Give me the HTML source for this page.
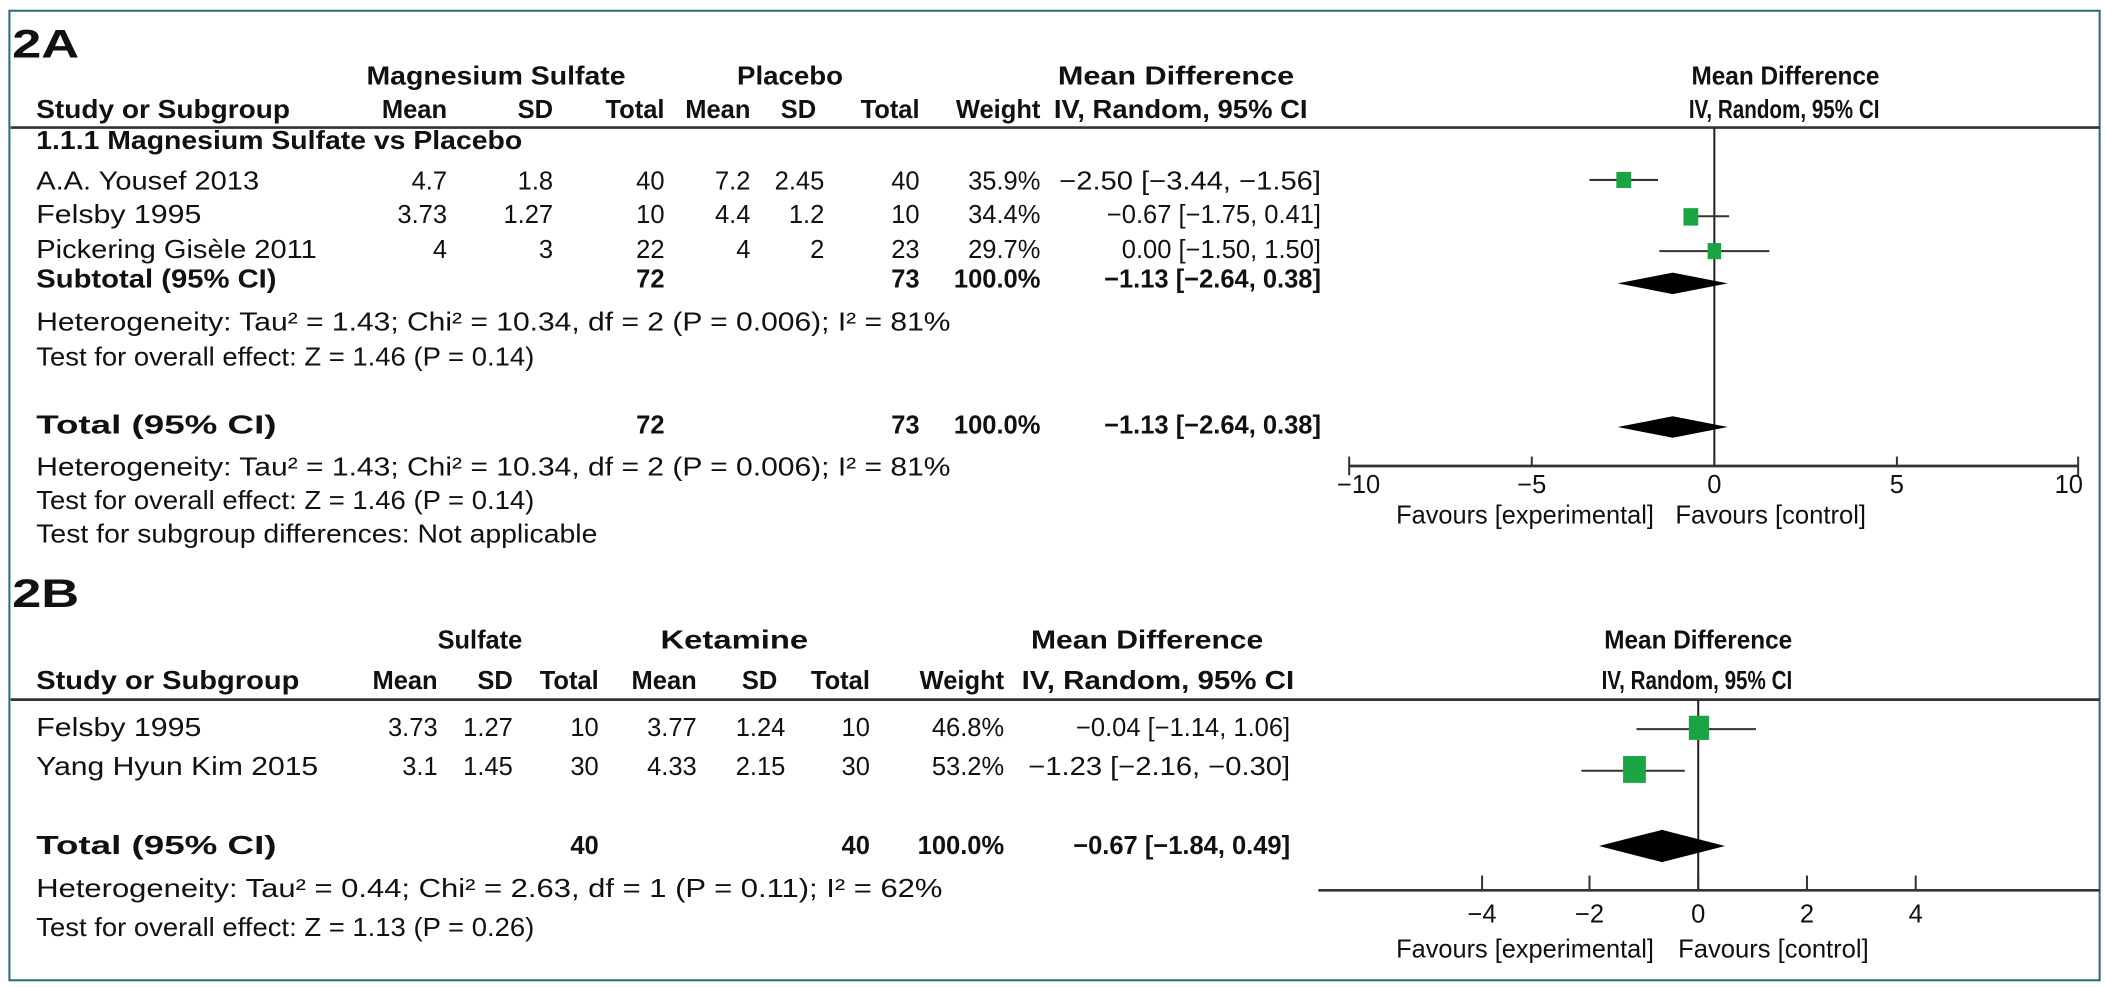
<!DOCTYPE html>
<html><head><meta charset="utf-8"><style>
html,body{margin:0;padding:0;background:#fff;width:2105px;height:987px;overflow:hidden}
svg{display:block}
text{font-family:"Liberation Sans",sans-serif;font-size:19px;fill:#111}
.b{font-weight:bold}
.r{text-anchor:end}
.m{text-anchor:middle}
</style></head><body>
<svg width="2105" height="987" viewBox="0 0 1568 735" preserveAspectRatio="none" xmlns="http://www.w3.org/2000/svg">
<rect x="7" y="8" width="1557" height="722" fill="#fff" stroke="#2b6a7a" stroke-width="1.5"/>
<!-- 2A -->
<text x="9" y="43" class="b" style="font-size:30px" textLength="50" lengthAdjust="spacingAndGlyphs">2A</text>
<text x="273" y="63" class="b" textLength="193" lengthAdjust="spacingAndGlyphs">Magnesium Sulfate</text>
<text x="549" y="63" class="b" textLength="79" lengthAdjust="spacingAndGlyphs">Placebo</text>
<text x="788" y="63" class="b" textLength="176" lengthAdjust="spacingAndGlyphs">Mean Difference</text>
<text x="1260" y="63" class="b" textLength="140" lengthAdjust="spacingAndGlyphs">Mean Difference</text>
<text x="27" y="88" class="b" textLength="189" lengthAdjust="spacingAndGlyphs">Study or Subgroup</text>
<text x="333" y="88" class="b r">Mean</text>
<text x="412" y="88" class="b r">SD</text>
<text x="495" y="88" class="b r">Total</text>
<text x="559" y="88" class="b r">Mean</text>
<text x="608" y="88" class="b r">SD</text>
<text x="685" y="88" class="b r">Total</text>
<text x="775" y="88" class="b r">Weight</text>
<text x="785" y="88" class="b" textLength="189" lengthAdjust="spacingAndGlyphs">IV, Random, 95% CI</text>
<text x="1258" y="88" class="b" textLength="142" lengthAdjust="spacingAndGlyphs">IV, Random, 95% CI</text>
<line x1="8" y1="95" x2="1564" y2="95" stroke="#333" stroke-width="2"/>
<text x="27" y="111" class="b" textLength="362" lengthAdjust="spacingAndGlyphs">1.1.1 Magnesium Sulfate vs Placebo</text>
<g>
<text x="27" y="141" textLength="166" lengthAdjust="spacingAndGlyphs">A.A. Yousef 2013</text><text x="333" y="141" class="r">4.7</text><text x="412" y="141" class="r">1.8</text><text x="495" y="141" class="r">40</text><text x="559" y="141" class="r">7.2</text><text x="614" y="141" class="r">2.45</text><text x="685" y="141" class="r">40</text><text x="775" y="141" class="r">35.9%</text><text x="984" y="141" class="r" textLength="195" lengthAdjust="spacingAndGlyphs">−2.50 [−3.44, −1.56]</text>
<text x="27" y="166" textLength="123" lengthAdjust="spacingAndGlyphs">Felsby 1995</text><text x="333" y="166" class="r">3.73</text><text x="412" y="166" class="r">1.27</text><text x="495" y="166" class="r">10</text><text x="559" y="166" class="r">4.4</text><text x="614" y="166" class="r">1.2</text><text x="685" y="166" class="r">10</text><text x="775" y="166" class="r">34.4%</text><text x="984" y="166" class="r">−0.67 [−1.75, 0.41]</text>
<text x="27" y="192" textLength="209" lengthAdjust="spacingAndGlyphs">Pickering Gisèle 2011</text><text x="333" y="192" class="r">4</text><text x="412" y="192" class="r">3</text><text x="495" y="192" class="r">22</text><text x="559" y="192" class="r">4</text><text x="614" y="192" class="r">2</text><text x="685" y="192" class="r">23</text><text x="775" y="192" class="r">29.7%</text><text x="984" y="192" class="r">0.00 [−1.50, 1.50]</text>
<text x="27" y="214" class="b" textLength="179" lengthAdjust="spacingAndGlyphs">Subtotal (95% CI)</text><text x="495" y="214" class="b r">72</text><text x="685" y="214" class="b r">73</text><text x="775" y="214" class="b r">100.0%</text><text x="984" y="214" class="b r">−1.13 [−2.64, 0.38]</text>
<text x="27" y="246" textLength="681" lengthAdjust="spacingAndGlyphs">Heterogeneity: Tau² = 1.43; Chi² = 10.34, df = 2 (P = 0.006); I² = 81%</text>
<text x="27" y="272" textLength="371" lengthAdjust="spacingAndGlyphs">Test for overall effect: Z = 1.46 (P = 0.14)</text>
<text x="27" y="323" class="b" textLength="179" lengthAdjust="spacingAndGlyphs">Total (95% CI)</text><text x="495" y="323" class="b r">72</text><text x="685" y="323" class="b r">73</text><text x="775" y="323" class="b r">100.0%</text><text x="984" y="323" class="b r">−1.13 [−2.64, 0.38]</text>
<text x="27" y="354" textLength="681" lengthAdjust="spacingAndGlyphs">Heterogeneity: Tau² = 1.43; Chi² = 10.34, df = 2 (P = 0.006); I² = 81%</text>
<text x="27" y="379" textLength="371" lengthAdjust="spacingAndGlyphs">Test for overall effect: Z = 1.46 (P = 0.14)</text>
<text x="27" y="404" textLength="418" lengthAdjust="spacingAndGlyphs">Test for subgroup differences: Not applicable</text>
</g>
<!-- 2A plot -->
<line x1="1277" y1="95" x2="1277" y2="347" stroke="#222" stroke-width="1.5"/>
<line x1="1005" y1="347" x2="1548" y2="347" stroke="#333" stroke-width="2"/>
<g stroke="#333" stroke-width="1.5">
<line x1="1005" y1="340" x2="1005" y2="354"/><line x1="1141" y1="340" x2="1141" y2="347"/><line x1="1277" y1="340" x2="1277" y2="347"/><line x1="1413" y1="340" x2="1413" y2="347"/><line x1="1548" y1="340" x2="1548" y2="354"/>
<line x1="1184" y1="134" x2="1235" y2="134"/>
<line x1="1259" y1="161" x2="1288" y2="161"/>
<line x1="1236" y1="187" x2="1318" y2="187"/>
</g>
<g fill="#1aa542">
<rect x="1204" y="128" width="11" height="12"/>
<rect x="1254" y="155" width="11" height="13"/>
<rect x="1272" y="181" width="10" height="12"/>
</g>
<polygon points="1205,211 1246,203 1287,211 1246,219" fill="#000"/>
<polygon points="1205,318 1246,310 1287,318 1246,326" fill="#000"/>
<text x="1012" y="367" class="m">−10</text><text x="1141" y="367" class="m">−5</text><text x="1277" y="367" class="m">0</text><text x="1413" y="367" class="m">5</text><text x="1541" y="367" class="m">10</text>
<text x="1040" y="390" textLength="192" lengthAdjust="spacingAndGlyphs">Favours [experimental]</text><text x="1248" y="390" textLength="142" lengthAdjust="spacingAndGlyphs">Favours [control]</text>
<!-- 2B -->
<text x="9" y="452" class="b" style="font-size:30px" textLength="50" lengthAdjust="spacingAndGlyphs">2B</text>
<text x="326" y="483" class="b" textLength="63" lengthAdjust="spacingAndGlyphs">Sulfate</text>
<text x="492" y="483" class="b" textLength="110" lengthAdjust="spacingAndGlyphs">Ketamine</text>
<text x="768" y="483" class="b" textLength="173" lengthAdjust="spacingAndGlyphs">Mean Difference</text>
<text x="1195" y="483" class="b" textLength="140" lengthAdjust="spacingAndGlyphs">Mean Difference</text>
<text x="27" y="513" class="b" textLength="196" lengthAdjust="spacingAndGlyphs">Study or Subgroup</text>
<text x="326" y="513" class="b r">Mean</text>
<text x="382" y="513" class="b r">SD</text>
<text x="446" y="513" class="b r">Total</text>
<text x="519" y="513" class="b r">Mean</text>
<text x="579" y="513" class="b r">SD</text>
<text x="648" y="513" class="b r">Total</text>
<text x="748" y="513" class="b r">Weight</text>
<text x="761" y="513" class="b" textLength="203" lengthAdjust="spacingAndGlyphs">IV, Random, 95% CI</text>
<text x="1193" y="513" class="b" textLength="142" lengthAdjust="spacingAndGlyphs">IV, Random, 95% CI</text>
<line x1="8" y1="521" x2="1564" y2="521" stroke="#333" stroke-width="2"/>
<text x="27" y="548" textLength="123" lengthAdjust="spacingAndGlyphs">Felsby 1995</text><text x="326" y="548" class="r">3.73</text><text x="382" y="548" class="r">1.27</text><text x="446" y="548" class="r">10</text><text x="519" y="548" class="r">3.77</text><text x="585" y="548" class="r">1.24</text><text x="648" y="548" class="r">10</text><text x="748" y="548" class="r">46.8%</text><text x="961" y="548" class="r">−0.04 [−1.14, 1.06]</text>
<text x="27" y="577" textLength="210" lengthAdjust="spacingAndGlyphs">Yang Hyun Kim 2015</text><text x="326" y="577" class="r">3.1</text><text x="382" y="577" class="r">1.45</text><text x="446" y="577" class="r">30</text><text x="519" y="577" class="r">4.33</text><text x="585" y="577" class="r">2.15</text><text x="648" y="577" class="r">30</text><text x="748" y="577" class="r">53.2%</text><text x="961" y="577" class="r" textLength="195" lengthAdjust="spacingAndGlyphs">−1.23 [−2.16, −0.30]</text>
<text x="27" y="636" class="b" textLength="179" lengthAdjust="spacingAndGlyphs">Total (95% CI)</text><text x="446" y="636" class="b r">40</text><text x="648" y="636" class="b r">40</text><text x="748" y="636" class="b r">100.0%</text><text x="961" y="636" class="b r">−0.67 [−1.84, 0.49]</text>
<text x="27" y="668" textLength="675" lengthAdjust="spacingAndGlyphs">Heterogeneity: Tau² = 0.44; Chi² = 2.63, df = 1 (P = 0.11); I² = 62%</text>
<text x="27" y="697" textLength="371" lengthAdjust="spacingAndGlyphs">Test for overall effect: Z = 1.13 (P = 0.26)</text>
<!-- 2B plot -->
<line x1="1265" y1="521" x2="1265" y2="663" stroke="#222" stroke-width="1.5"/>
<line x1="982" y1="663" x2="1564" y2="663" stroke="#333" stroke-width="2"/>
<g stroke="#333" stroke-width="1.5">
<line x1="1104" y1="652" x2="1104" y2="663"/><line x1="1184" y1="652" x2="1184" y2="663"/><line x1="1265" y1="652" x2="1265" y2="663"/><line x1="1346" y1="652" x2="1346" y2="663"/><line x1="1427" y1="652" x2="1427" y2="663"/>
<line x1="1219" y1="543" x2="1308" y2="543"/>
<line x1="1178" y1="574" x2="1255" y2="574"/>
</g>
<g fill="#1aa542">
<rect x="1258" y="533" width="15" height="18"/>
<rect x="1209" y="563" width="17" height="20"/>
</g>
<polygon points="1191,630 1238,618 1285,630 1238,642" fill="#000"/>
<text x="1104" y="687" class="m">−4</text><text x="1184" y="687" class="m">−2</text><text x="1265" y="687" class="m">0</text><text x="1346" y="687" class="m">2</text><text x="1427" y="687" class="m">4</text>
<text x="1040" y="713" textLength="192" lengthAdjust="spacingAndGlyphs">Favours [experimental]</text><text x="1250" y="713" textLength="142" lengthAdjust="spacingAndGlyphs">Favours [control]</text>
</svg>
</body></html>
